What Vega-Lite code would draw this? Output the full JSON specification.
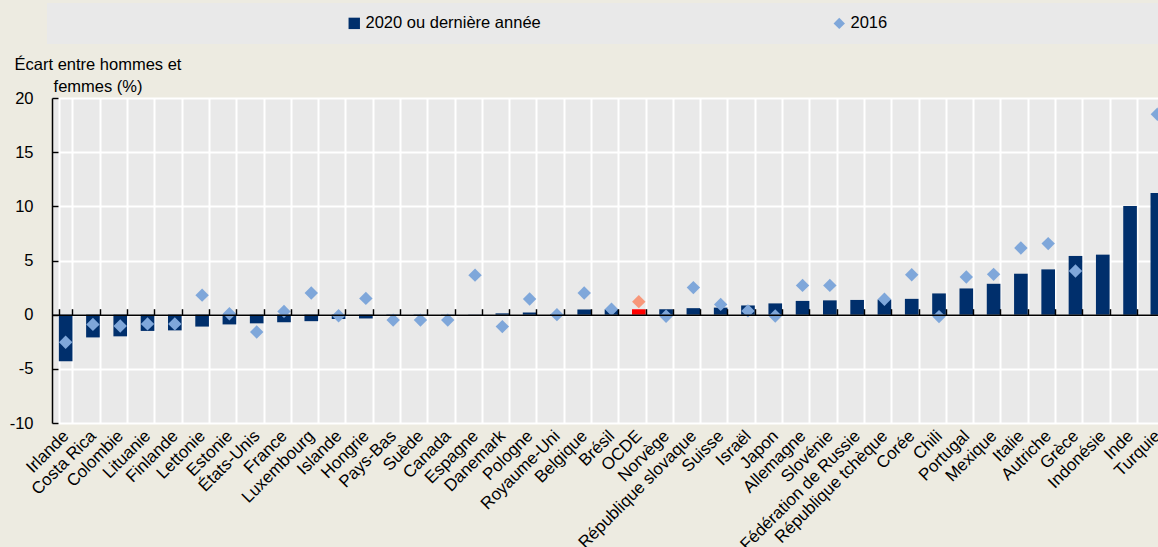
{
  "$schema": "https://vega.github.io/schema/vega-lite/v6.json",
  "width": 1106,
  "height": 325,
  "autosize": {"type": "none"},
  "padding": {"left": 52, "top": 98, "right": 0, "bottom": 124},
  "background": "#EDEBE1",
  "config": {
    "font": "Liberation Sans",
    "view": {"fill": "#E9E9E9", "stroke": null},
    "axis": {
      "labelFont": "Liberation Sans",
      "labelFontSize": 16.5,
      "labelColor": "#000000",
      "titleFont": "Liberation Sans",
      "titleFontSize": 16.5,
      "titleFontWeight": "normal",
      "titleColor": "#000000",
      "domainColor": "#000000",
      "domainWidth": 1.5,
      "tickColor": "#000000",
      "tickWidth": 1.5,
      "gridColor": "#FFFFFF",
      "gridWidth": 2,
      "gridOpacity": 1
    },
    "legend": {
      "orient": "none",
      "legendX": -5,
      "legendY": -95,
      "direction": "horizontal",
      "fillColor": "#E9E9E9",
      "strokeColor": null,
      "padding": 12,
      "symbolOffset": 287,
      "columnPadding": 3,
      "labelOffset": 3,
      "labelLimit": 500,
      "labelFont": "Liberation Sans",
      "labelFontSize": 16.5,
      "labelColor": "#000000",
      "symbolSize": 130,
      "symbolStrokeWidth": 0,
      "titleOrient": "right",
      "titlePadding": 300,
      "titleFontSize": 10
    }
  },
  "data": {
    "values": [
      {"pays": "Irlande", "serie": "2020 ou dernière année", "valeur": -4.3},
      {"pays": "Costa Rica", "serie": "2020 ou dernière année", "valeur": -2.1},
      {"pays": "Colombie", "serie": "2020 ou dernière année", "valeur": -2.0},
      {"pays": "Lituanie", "serie": "2020 ou dernière année", "valeur": -1.5},
      {"pays": "Finlande", "serie": "2020 ou dernière année", "valeur": -1.45},
      {"pays": "Lettonie", "serie": "2020 ou dernière année", "valeur": -1.1},
      {"pays": "Estonie", "serie": "2020 ou dernière année", "valeur": -0.9},
      {"pays": "États-Unis", "serie": "2020 ou dernière année", "valeur": -0.8},
      {"pays": "France", "serie": "2020 ou dernière année", "valeur": -0.7},
      {"pays": "Luxembourg", "serie": "2020 ou dernière année", "valeur": -0.6},
      {"pays": "Islande", "serie": "2020 ou dernière année", "valeur": -0.4},
      {"pays": "Hongrie", "serie": "2020 ou dernière année", "valeur": -0.35},
      {"pays": "Pays-Bas", "serie": "2020 ou dernière année", "valeur": -0.05},
      {"pays": "Suède", "serie": "2020 ou dernière année", "valeur": -0.03},
      {"pays": "Canada", "serie": "2020 ou dernière année", "valeur": -0.02},
      {"pays": "Espagne", "serie": "2020 ou dernière année", "valeur": 0.02},
      {"pays": "Danemark", "serie": "2020 ou dernière année", "valeur": 0.12},
      {"pays": "Pologne", "serie": "2020 ou dernière année", "valeur": 0.2},
      {"pays": "Royaume-Uni", "serie": "2020 ou dernière année", "valeur": 0.05},
      {"pays": "Belgique", "serie": "2020 ou dernière année", "valeur": 0.48},
      {"pays": "Brésil", "serie": "2020 ou dernière année", "valeur": 0.5},
      {"pays": "OCDE", "serie": "2020 ou dernière année", "valeur": 0.5},
      {"pays": "Norvège", "serie": "2020 ou dernière année", "valeur": 0.5},
      {"pays": "République slovaque", "serie": "2020 ou dernière année", "valeur": 0.6},
      {"pays": "Suisse", "serie": "2020 ou dernière année", "valeur": 0.65},
      {"pays": "Israël", "serie": "2020 ou dernière année", "valeur": 0.85},
      {"pays": "Japon", "serie": "2020 ou dernière année", "valeur": 1.04},
      {"pays": "Allemagne", "serie": "2020 ou dernière année", "valeur": 1.27},
      {"pays": "Slovénie", "serie": "2020 ou dernière année", "valeur": 1.32},
      {"pays": "Fédération de Russie", "serie": "2020 ou dernière année", "valeur": 1.36},
      {"pays": "République tchèque", "serie": "2020 ou dernière année", "valeur": 1.4},
      {"pays": "Corée", "serie": "2020 ou dernière année", "valeur": 1.46},
      {"pays": "Chili", "serie": "2020 ou dernière année", "valeur": 1.96},
      {"pays": "Portugal", "serie": "2020 ou dernière année", "valeur": 2.42},
      {"pays": "Mexique", "serie": "2020 ou dernière année", "valeur": 2.85},
      {"pays": "Italie", "serie": "2020 ou dernière année", "valeur": 3.78},
      {"pays": "Autriche", "serie": "2020 ou dernière année", "valeur": 4.18},
      {"pays": "Grèce", "serie": "2020 ou dernière année", "valeur": 5.42},
      {"pays": "Indonésie", "serie": "2020 ou dernière année", "valeur": 5.54},
      {"pays": "Inde", "serie": "2020 ou dernière année", "valeur": 10.02},
      {"pays": "Turquie", "serie": "2020 ou dernière année", "valeur": 11.22},
      {"pays": "Irlande", "serie": "2016", "valeur": -2.55},
      {"pays": "Costa Rica", "serie": "2016", "valeur": -0.9},
      {"pays": "Colombie", "serie": "2016", "valeur": -1.05},
      {"pays": "Lituanie", "serie": "2016", "valeur": -0.85},
      {"pays": "Finlande", "serie": "2016", "valeur": -0.85},
      {"pays": "Lettonie", "serie": "2016", "valeur": 1.8},
      {"pays": "Estonie", "serie": "2016", "valeur": 0.08},
      {"pays": "États-Unis", "serie": "2016", "valeur": -1.6},
      {"pays": "France", "serie": "2016", "valeur": 0.3},
      {"pays": "Luxembourg", "serie": "2016", "valeur": 2.0},
      {"pays": "Islande", "serie": "2016", "valeur": -0.1},
      {"pays": "Hongrie", "serie": "2016", "valeur": 1.5},
      {"pays": "Pays-Bas", "serie": "2016", "valeur": -0.5},
      {"pays": "Suède", "serie": "2016", "valeur": -0.5},
      {"pays": "Canada", "serie": "2016", "valeur": -0.5},
      {"pays": "Espagne", "serie": "2016", "valeur": 3.65},
      {"pays": "Danemark", "serie": "2016", "valeur": -1.1},
      {"pays": "Pologne", "serie": "2016", "valeur": 1.45},
      {"pays": "Royaume-Uni", "serie": "2016", "valeur": 0.0},
      {"pays": "Belgique", "serie": "2016", "valeur": 2.0},
      {"pays": "Brésil", "serie": "2016", "valeur": 0.5},
      {"pays": "OCDE", "serie": "2016", "valeur": 1.2},
      {"pays": "Norvège", "serie": "2016", "valeur": -0.15},
      {"pays": "République slovaque", "serie": "2016", "valeur": 2.5},
      {"pays": "Suisse", "serie": "2016", "valeur": 0.95},
      {"pays": "Israël", "serie": "2016", "valeur": 0.35},
      {"pays": "Japon", "serie": "2016", "valeur": -0.12},
      {"pays": "Allemagne", "serie": "2016", "valeur": 2.7},
      {"pays": "Slovénie", "serie": "2016", "valeur": 2.7},
      {"pays": "République tchèque", "serie": "2016", "valeur": 1.42},
      {"pays": "Corée", "serie": "2016", "valeur": 3.69},
      {"pays": "Chili", "serie": "2016", "valeur": -0.18},
      {"pays": "Portugal", "serie": "2016", "valeur": 3.47},
      {"pays": "Mexique", "serie": "2016", "valeur": 3.72},
      {"pays": "Italie", "serie": "2016", "valeur": 6.16},
      {"pays": "Autriche", "serie": "2016", "valeur": 6.56},
      {"pays": "Grèce", "serie": "2016", "valeur": 4.03},
      {"pays": "Turquie", "serie": "2016", "valeur": 18.5}
    ]
  },
  "encoding": {
    "y": {
      "field": "valeur",
      "type": "quantitative",
      "scale": {"domain": [-10, 20], "nice": false, "zero": false},
      "axis": {
        "values": [-10, -5, 0, 5, 10, 15, 20],
        "labelExpr": "replace(datum.label, '−', '-')",
        "grid": true,
        "tickSize": -6,
        "labelPadding": 25,
        "title": ["Écart entre hommes et", "femmes (%)"],
        "titleAngle": 0,
        "titleAlign": "center",
        "titleBaseline": "alphabetic",
        "titleX": 45.5,
        "titleY": -28.7,
        "titleLineHeight": 22.4
      }
    }
  },
  "layer": [
    {
      "transform": [{"filter": "datum.serie === '2020 ou dernière année'"}],
      "mark": {"type": "bar"},
      "encoding": {
        "x": {
          "field": "pays",
          "type": "nominal",
          "scale": {
            "domain": ["Irlande", "Costa Rica", "Colombie", "Lituanie", "Finlande", "Lettonie", "Estonie", "États-Unis", "France", "Luxembourg", "Islande", "Hongrie", "Pays-Bas", "Suède", "Canada", "Espagne", "Danemark", "Pologne", "Royaume-Uni", "Belgique", "Brésil", "OCDE", "Norvège", "République slovaque", "Suisse", "Israël", "Japon", "Allemagne", "Slovénie", "Fédération de Russie", "République tchèque", "Corée", "Chili", "Portugal", "Mexique", "Italie", "Autriche", "Grèce", "Indonésie", "Inde", "Turquie"],
            "range": [0, 1119],
            "paddingInner": 0.5,
            "paddingOuter": 0.25
          },
          "axis": {
            "orient": "bottom",
            "title": null,
            "domain": false,
            "ticks": false,
            "grid": true,
            "tickBand": "extent",
            "labelAngle": -45,
            "labelAlign": "right",
            "labelBaseline": "middle",
            "labelFontSize": 17,
            "labelPadding": 10,
            "labelOverlap": false,
            "labelBound": false,
            "labelLimit": 400
          }
        },
        "color": {
          "condition": {"test": "datum.pays === 'OCDE'", "value": "#FF0000"},
          "value": "#002F6C"
        }
      }
    },
    {
      "transform": [{"filter": "datum.serie === '2016'"}],
      "mark": {"type": "point", "filled": true, "size": 180, "opacity": 1},
      "encoding": {
        "x": {
          "field": "pays",
          "type": "nominal",
          "axis": {
            "orient": "top",
            "offset": -216.7,
            "title": null,
            "labels": false,
            "grid": false,
            "ticks": true,
            "tickBand": "extent",
            "tickSize": 6,
            "domain": true,
            "zindex": 1
          }
        },
        "color": {
          "field": "serie",
          "type": "nominal",
          "scale": {"domain": ["2020 ou dernière année", "2016"], "range": ["#002F6C", "#7FA7DA"]},
          "condition": {"test": "datum.pays === 'OCDE'", "value": "#F7977A"},
          "legend": {"title": " "}
        },
        "shape": {
          "field": "serie",
          "type": "nominal",
          "scale": {"domain": ["2020 ou dernière année", "2016"], "range": ["square", "diamond"]},
          "legend": {"title": " "}
        }
      }
    }
  ],
  "resolve": {"axis": {"x": "independent"}}
}
